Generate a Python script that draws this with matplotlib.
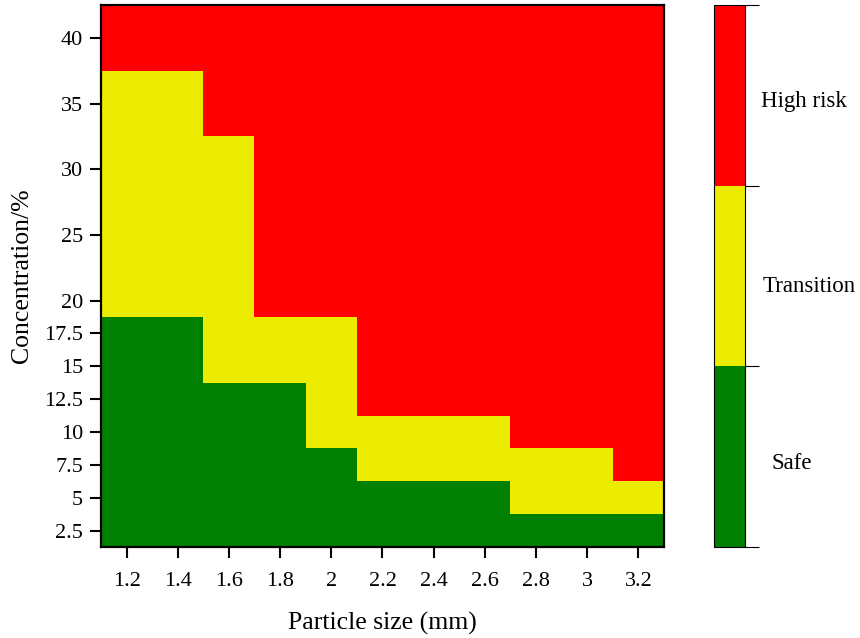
import numpy as np
import matplotlib
matplotlib.use("Agg")
import matplotlib.pyplot as plt
from matplotlib.colors import ListedColormap, BoundaryNorm

plt.rcParams['font.family'] = ['Liberation Serif', 'DejaVu Serif']

# Particle size (mm) at cell centres, and the cell edges
sizes = [1.2, 1.4, 1.6, 1.8, 2.0, 2.2, 2.4, 2.6, 2.8, 3.0, 3.2]
size_edges = [1.1, 1.3, 1.5, 1.7, 1.9, 2.1, 2.3, 2.5, 2.7, 2.9, 3.1, 3.3]

# Concentration (%) at cell centres, and the cell edges
concentrations = [2.5, 5, 7.5, 10, 12.5, 15, 17.5, 20, 25, 30, 35, 40]
conc_edges = [1.25, 3.75, 6.25, 8.75, 11.25, 13.75, 16.25, 18.75,
              22.5, 27.5, 32.5, 37.5, 42.5]

# Risk class per cell: 0 = Safe, 1 = Transition, 2 = High risk
# rows follow `concentrations` (bottom to top), columns follow `sizes`
risk = [
    [0, 0, 0, 0, 0, 0, 0, 0, 0, 0, 0],  # 2.5
    [0, 0, 0, 0, 0, 0, 0, 0, 1, 1, 1],  # 5
    [0, 0, 0, 0, 0, 1, 1, 1, 1, 1, 2],  # 7.5
    [0, 0, 0, 0, 1, 1, 1, 1, 2, 2, 2],  # 10
    [0, 0, 0, 0, 1, 2, 2, 2, 2, 2, 2],  # 12.5
    [0, 0, 1, 1, 1, 2, 2, 2, 2, 2, 2],  # 15
    [0, 0, 1, 1, 1, 2, 2, 2, 2, 2, 2],  # 17.5
    [1, 1, 1, 2, 2, 2, 2, 2, 2, 2, 2],  # 20
    [1, 1, 1, 2, 2, 2, 2, 2, 2, 2, 2],  # 25
    [1, 1, 1, 2, 2, 2, 2, 2, 2, 2, 2],  # 30
    [1, 1, 2, 2, 2, 2, 2, 2, 2, 2, 2],  # 35
    [2, 2, 2, 2, 2, 2, 2, 2, 2, 2, 2],  # 40
]

class_names = ["Safe", "Transition", "High risk"]
class_colors = ["#008000", "#ECEC00", "#FF0000"]

cmap = ListedColormap(class_colors)
norm = BoundaryNorm([-0.5, 0.5, 1.5, 2.5], cmap.N)

fig = plt.figure(figsize=(8.6, 6.38), dpi=100)
ax = fig.add_axes([0.1174, 0.1426, 0.6546, 0.8496])
cax = fig.add_axes([0.8302, 0.1426, 0.0360, 0.8496])

mesh = ax.pcolormesh(size_edges, conc_edges, np.array(risk), cmap=cmap,
                     norm=norm, shading="flat")

ax.set_xlim(size_edges[0], size_edges[-1])
ax.set_ylim(conc_edges[0], conc_edges[-1])
ax.set_xticks(sizes)
ax.set_xticklabels([f"{s:g}" for s in sizes])
ax.set_yticks(concentrations)
ax.set_yticklabels([f"{c:g}" for c in concentrations])
ax.tick_params(axis="both", direction="out", length=8, width=1.5,
               labelsize=16, color="black")
ax.tick_params(axis="x", pad=10)
ax.tick_params(axis="y", pad=5)
for sp in ax.spines.values():
    sp.set_linewidth(1.6)

ax.set_xlabel("Particle size (mm)", fontsize=18.5, labelpad=15)
ax.set_ylabel("Concentration/%", fontsize=18.5, labelpad=8)

cb = fig.colorbar(mesh, cax=cax, boundaries=[-0.5, 0.5, 1.5, 2.5],
                  ticks=[-0.5, 0.5, 1.5, 2.5])
cb.set_ticklabels(["", "", "", ""])
cb.outline.set_linewidth(0.8)
cax.tick_params(axis="y", direction="out", length=10, width=0.8, right=True)

label_pos = {"High risk": (1.52, 0.822), "Transition": (1.58, 0.480),
             "Safe": (1.87, 0.155)}
for name in class_names:
    x, y = label_pos[name]
    cax.text(x, y, name, transform=cax.transAxes, fontsize=16.5,
             ha="left", va="center")

fig.savefig("out.png", dpi=100)
